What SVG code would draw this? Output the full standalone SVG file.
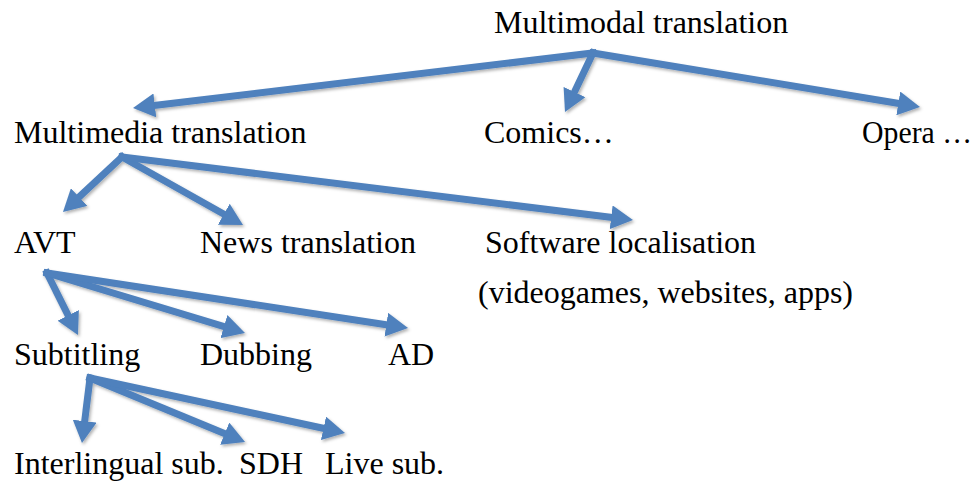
<svg xmlns="http://www.w3.org/2000/svg" width="979" height="483" viewBox="0 0 979 483">
<style>
text { font-family: "Liberation Serif", "Times New Roman", serif; font-size: 32px; fill: #000; }
.c line { stroke: #4F81BD; stroke-width: 7; stroke-linecap: square; marker-end: url(#ah); }
</style>
<defs>
<marker id="ah" markerUnits="userSpaceOnUse" viewBox="0 0 22 24" markerWidth="22" markerHeight="24" refX="8" refY="12" orient="auto">
<path d="M0,0 L22,12 L0,24 z" fill="#4F81BD"/>
</marker>
<filter id="sh" x="-10%" y="-10%" width="120%" height="130%">
<feDropShadow dx="1.5" dy="2" stdDeviation="1.5" flood-color="#000" flood-opacity="0.3"/>
</filter>
</defs>
<rect width="979" height="483" fill="#fff"/>
<g id="connectors" class="c" filter="url(#sh)">
<line x1="593" y1="53" x2="146.9" y2="106.3"/>
<line x1="593" y1="53" x2="571" y2="99.3"/>
<line x1="593" y1="53" x2="906.2" y2="104.7"/>
<line x1="122" y1="157" x2="73.2" y2="202.5"/>
<line x1="122" y1="157" x2="230.8" y2="218.1"/>
<line x1="122" y1="157" x2="619.1" y2="218.3"/>
<line x1="47" y1="273" x2="71.7" y2="322.5"/>
<line x1="47" y1="273" x2="231.6" y2="328.9"/>
<line x1="47" y1="273" x2="394.2" y2="325.9"/>
<line x1="90" y1="378" x2="83.7" y2="429.1"/>
<line x1="90" y1="378" x2="232.1" y2="436.7"/>
<line x1="90" y1="378" x2="331.3" y2="430"/>
</g>
<g id="multimodal"><text x="494" y="33">Multimodal translation</text></g>
<g id="multimedia"><text x="14" y="143">Multimedia translation</text></g>
<g id="comics"><text x="484" y="143">Comics…</text></g>
<g id="opera"><text x="862" y="143" textLength="110" lengthAdjust="spacingAndGlyphs">Opera …</text></g>
<g id="avt"><text x="14" y="253">AVT</text></g>
<g id="news"><text x="200" y="253">News translation</text></g>
<g id="software"><text x="485" y="253">Software localisation</text><text x="478" y="303">(videogames, websites, apps)</text></g>
<g id="subtitling"><text x="14" y="365">Subtitling</text></g>
<g id="dubbing"><text x="200" y="365">Dubbing</text></g>
<g id="ad"><text x="388" y="365">AD</text></g>
<g id="interlingual"><text x="14" y="474">Interlingual sub.</text></g>
<g id="sdh"><text x="239" y="474">SDH</text></g>
<g id="live"><text x="325" y="474">Live sub.</text></g>
</svg>
